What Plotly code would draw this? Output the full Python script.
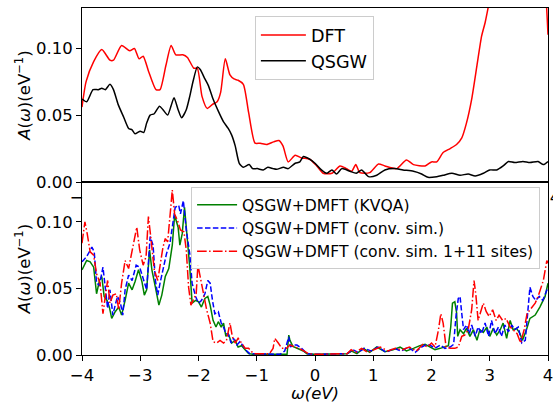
import plotly.graph_objects as go

# ---------------- top panel data ----------------
dft_x = [-4.00, -3.93, -3.80, -3.66, -3.52, -3.46, -3.32, -3.18, -3.10, -3.02,
         -2.95, -2.86, -2.73, -2.66, -2.56, -2.47, -2.39, -2.27, -2.19, -2.08,
         -2.02, -1.94, -1.85, -1.76, -1.68, -1.62, -1.54, -1.46, -1.39, -1.32,
         -1.23, -1.14, -1.03, -0.94, -0.83, -0.71, -0.62, -0.55, -0.46, -0.34,
         -0.23, -0.09, 0.03, 0.14, 0.29, 0.43, 0.54, 0.63, 0.70, 0.77,
         0.94, 1.09, 1.20, 1.40, 1.57, 1.69, 1.89, 2.00, 2.09, 2.20,
         2.32, 2.43, 2.52, 2.60, 2.69, 2.78, 2.86, 2.92, 2.98, 3.10,
         3.30, 3.50, 3.70, 3.85, 3.90, 3.97, 4.00]
dft_y = [0.056, 0.075, 0.090, 0.099, 0.091, 0.091, 0.102, 0.098, 0.0998, 0.092,
         0.094, 0.083, 0.069, 0.069, 0.087, 0.102, 0.095, 0.095, 0.093, 0.085,
         0.085, 0.064, 0.055, 0.058, 0.060, 0.067, 0.092, 0.080, 0.077, 0.076,
         0.073, 0.052, 0.029, 0.029, 0.028, 0.030, 0.031, 0.027, 0.015, 0.020,
         0.018, 0.017, 0.012, 0.0065, 0.0065, 0.012, 0.010, 0.008, 0.013, 0.007,
         0.007, 0.0135, 0.012, 0.010, 0.0165, 0.013, 0.012, 0.015, 0.015, 0.022,
         0.025, 0.028, 0.033, 0.044, 0.062, 0.087, 0.109, 0.119, 0.132, 0.16,
         0.19, 0.20, 0.19, 0.175, 0.17, 0.135, 0.11]

qsgw_x = [-4.00, -3.92, -3.81, -3.72, -3.66, -3.60, -3.52, -3.46, -3.38, -3.29,
          -3.20, -3.14, -3.09, -3.00, -2.94, -2.89, -2.83, -2.76, -2.67, -2.61,
          -2.53, -2.47, -2.42, -2.35, -2.29, -2.21, -2.15, -2.10, -2.02, -1.97,
          -1.89, -1.83, -1.75, -1.66, -1.57, -1.49, -1.43, -1.37, -1.30, -1.23,
          -1.13, -1.07, -0.99, -0.89, -0.81, -0.72, -0.66, -0.54, -0.46, -0.34,
          -0.26, -0.20, -0.09, 0.00, 0.11, 0.20, 0.29, 0.37, 0.46, 0.60,
          0.71, 0.80, 0.92, 1.06, 1.20, 1.37, 1.51, 1.69, 1.83, 1.94,
          2.09, 2.20, 2.35, 2.49, 2.63, 2.75, 2.89, 3.00, 3.12, 3.23,
          3.32, 3.43, 3.57, 3.69, 3.83, 3.92, 4.00]
qsgw_y = [0.062, 0.060, 0.069, 0.069, 0.070, 0.069, 0.073, 0.069, 0.058, 0.049,
          0.040, 0.039, 0.036, 0.038, 0.037, 0.044, 0.050, 0.051, 0.0566, 0.054,
          0.050, 0.057, 0.063, 0.054, 0.048, 0.054, 0.064, 0.074, 0.086, 0.084,
          0.077, 0.072, 0.062, 0.053, 0.045, 0.040, 0.035, 0.027, 0.014, 0.011,
          0.013, 0.010, 0.010, 0.009, 0.011, 0.010, 0.0095, 0.011, 0.010, 0.014,
          0.015, 0.019, 0.017, 0.014, 0.009, 0.0065, 0.009, 0.006, 0.010, 0.008,
          0.0065, 0.009, 0.004, 0.005, 0.009, 0.010, 0.009, 0.008, 0.006, 0.0035,
          0.004, 0.005, 0.0065, 0.005, 0.006, 0.0045, 0.0065, 0.009, 0.009, 0.012,
          0.0153, 0.0145, 0.0153, 0.0145, 0.0153, 0.013, 0.0153]

# ---------------- bottom panel data ----------------
kvqa_x = [-4.00, -3.92, -3.86, -3.80, -3.75, -3.70, -3.66, -3.62, -3.57, -3.53,
          -3.49, -3.43, -3.37, -3.32, -3.26, -3.20, -3.14, -3.09, -3.03, -2.97,
          -2.93, -2.89, -2.84, -2.80, -2.74, -2.68, -2.63, -2.57, -2.51, -2.45,
          -2.41, -2.35, -2.32, -2.28, -2.24, -2.20, -2.15, -2.11, -2.05, -2.00,
          -1.95, -1.89, -1.84, -1.80, -1.75, -1.70, -1.66, -1.61, -1.57, -1.53,
          -1.49, -1.43, -1.37, -1.32, -1.26, -1.20, -1.14, -1.06, -0.60, -0.48,
          -0.45, -0.43, -0.38, -0.31, -0.20, -0.14, 0.00, 0.55, 0.63, 0.72,
          0.83, 0.94, 1.06, 1.20, 1.34, 1.46, 1.57, 1.69, 1.80, 1.89,
          1.97, 2.06, 2.15, 2.23, 2.29, 2.33, 2.36, 2.40, 2.43, 2.45,
          2.49, 2.55, 2.60, 2.66, 2.72, 2.78, 2.83, 2.89, 2.95, 3.00,
          3.06, 3.12, 3.18, 3.23, 3.29, 3.35, 3.40, 3.46, 3.52, 3.56,
          3.63, 3.69, 3.78, 3.86, 3.95, 4.00]
kvqa_y = [0.064, 0.071, 0.070, 0.066, 0.046, 0.056, 0.059, 0.044, 0.041, 0.036,
          0.0275, 0.0325, 0.036, 0.030, 0.041, 0.054, 0.049, 0.055, 0.064, 0.055,
          0.045, 0.049, 0.079, 0.064, 0.051, 0.0375, 0.045, 0.059, 0.065, 0.0825,
          0.105, 0.096, 0.0825, 0.091, 0.111, 0.091, 0.066, 0.039, 0.041, 0.040,
          0.036, 0.0425, 0.044, 0.0375, 0.026, 0.021, 0.025, 0.021, 0.024, 0.014,
          0.016, 0.009, 0.011, 0.006, 0.007, 0.004, 0.001, 0.0005, 0.0005, 0.0005,
          0.015, 0.011, 0.0065, 0.005, 0.003, 0.001, 0.0005, 0.001, 0.003, 0.001,
          0.005, 0.002, 0.006, 0.0025, 0.004, 0.006, 0.003, 0.005, 0.007, 0.008,
          0.006, 0.004, 0.005, 0.006, 0.007, 0.021, 0.039, 0.040, 0.032, 0.014,
          0.019, 0.016, 0.020, 0.014, 0.019, 0.011, 0.019, 0.017, 0.021, 0.014,
          0.020, 0.015, 0.019, 0.024, 0.0125, 0.026, 0.019, 0.020, 0.016, 0.011,
          0.019, 0.0275, 0.030, 0.036, 0.044, 0.054]

conv_x = [-4.00, -3.92, -3.83, -3.79, -3.75, -3.70, -3.64, -3.60, -3.56, -3.52,
          -3.47, -3.43, -3.39, -3.34, -3.30, -3.26, -3.20, -3.14, -3.07, -3.01,
          -2.94, -2.89, -2.83, -2.78, -2.74, -2.70, -2.66, -2.60, -2.55, -2.49,
          -2.44, -2.40, -2.34, -2.31, -2.26, -2.21, -2.15, -2.11, -2.05, -2.00,
          -1.95, -1.89, -1.84, -1.80, -1.76, -1.72, -1.66, -1.61, -1.57, -1.53,
          -1.49, -1.44, -1.40, -1.34, -1.29, -1.23, -1.17, -1.12, -0.60, -0.52,
          -0.45, -0.42, -0.38, -0.31, -0.23, -0.14, 0.00, 0.55, 0.65, 0.74,
          0.85, 0.96, 1.08, 1.22, 1.36, 1.48, 1.60, 1.72, 1.83, 1.92,
          1.97, 2.06, 2.15, 2.23, 2.32, 2.38, 2.42, 2.46, 2.49, 2.52,
          2.55, 2.60, 2.65, 2.69, 2.75, 2.80, 2.86, 2.92, 2.98, 3.03,
          3.09, 3.15, 3.20, 3.26, 3.32, 3.38, 3.43, 3.49, 3.55, 3.61,
          3.65, 3.69, 3.74, 3.79, 3.85, 3.91, 4.00]
conv_y = [0.070, 0.074, 0.081, 0.0775, 0.054, 0.0525, 0.066, 0.049, 0.035, 0.049,
          0.030, 0.0375, 0.044, 0.039, 0.030, 0.049, 0.060, 0.056, 0.0675, 0.066,
          0.055, 0.049, 0.089, 0.0825, 0.056, 0.045, 0.054, 0.066, 0.076, 0.084,
          0.099, 0.111, 0.1125, 0.106, 0.116, 0.094, 0.076, 0.054, 0.044, 0.039,
          0.041, 0.046, 0.056, 0.054, 0.041, 0.031, 0.0325, 0.024, 0.021, 0.016,
          0.016, 0.009, 0.0125, 0.0075, 0.010, 0.006, 0.003, 0.001, 0.0005, 0.003,
          0.0137, 0.006, 0.0075, 0.0075, 0.005, 0.001, 0.0005, 0.001, 0.004, 0.002,
          0.005, 0.003, 0.006, 0.002, 0.005, 0.003, 0.006, 0.002, 0.006, 0.008,
          0.0075, 0.005, 0.0075, 0.005, 0.006, 0.008, 0.029, 0.0425, 0.044, 0.031,
          0.019, 0.0225, 0.016, 0.0225, 0.014, 0.021, 0.016, 0.024, 0.014, 0.026,
          0.016, 0.021, 0.014, 0.0225, 0.0175, 0.0225, 0.019, 0.021, 0.009, 0.011,
          0.029, 0.051, 0.044, 0.041, 0.044, 0.041, 0.051]

sites_x = [-4.00, -3.95, -3.91, -3.86, -3.80, -3.75, -3.69, -3.64, -3.60, -3.56,
           -3.52, -3.47, -3.41, -3.37, -3.32, -3.26, -3.20, -3.14, -3.10, -3.06,
           -3.01, -2.95, -2.90, -2.86, -2.82, -2.76, -2.70, -2.66, -2.61, -2.57,
           -2.53, -2.48, -2.45, -2.41, -2.36, -2.31, -2.25, -2.21, -2.17, -2.13,
           -2.08, -2.04, -2.01, -1.97, -1.92, -1.86, -1.80, -1.75, -1.69, -1.63,
           -1.57, -1.52, -1.46, -1.42, -1.37, -1.32, -1.26, -1.20, -1.14, -1.09,
           -1.03, -0.92, -0.78, -0.72, -0.69, -0.63, -0.57, -0.49, -0.43, -0.34,
           -0.23, -0.11, 0.00, 0.55, 0.62, 0.70, 0.80, 0.90, 1.00, 1.12,
           1.25, 1.38, 1.50, 1.62, 1.74, 1.85, 1.93, 2.00, 2.06, 2.12,
           2.16, 2.20, 2.25, 2.32, 2.40, 2.46, 2.52, 2.57, 2.63, 2.69,
           2.73, 2.76, 2.80, 2.84, 2.89, 2.94, 2.99, 3.05, 3.11, 3.16,
           3.22, 3.28, 3.35, 3.40, 3.47, 3.53, 3.59, 3.64, 3.72, 3.78,
           3.83, 3.92, 3.98, 4.00]
sites_y = [0.084, 0.100, 0.091, 0.0775, 0.075, 0.061, 0.054, 0.031, 0.044, 0.056,
           0.039, 0.045, 0.046, 0.034, 0.054, 0.071, 0.065, 0.0775, 0.086, 0.096,
           0.079, 0.0675, 0.074, 0.104, 0.089, 0.064, 0.056, 0.066, 0.081, 0.0875,
           0.085, 0.109, 0.124, 0.106, 0.101, 0.094, 0.0925, 0.079, 0.051, 0.0375,
           0.0425, 0.046, 0.0675, 0.059, 0.046, 0.034, 0.024, 0.010, 0.009, 0.011,
           0.009, 0.011, 0.024, 0.014, 0.009, 0.0125, 0.009, 0.005, 0.005, 0.0025,
           0.001, 0.001, 0.001, 0.005, 0.0125, 0.009, 0.005, 0.005, 0.0075, 0.006,
           0.004, 0.001, 0.0005, 0.001, 0.004, 0.002, 0.005, 0.002, 0.004, 0.006,
           0.003, 0.005, 0.004, 0.006, 0.003, 0.008, 0.006, 0.009, 0.006, 0.019,
           0.031, 0.024, 0.006, 0.005, 0.005, 0.006, 0.014, 0.015, 0.019, 0.034,
           0.056, 0.046, 0.026, 0.0325, 0.039, 0.0325, 0.029, 0.034, 0.026, 0.030,
           0.026, 0.0275, 0.021, 0.019, 0.016, 0.009, 0.019, 0.031, 0.036, 0.039,
           0.044, 0.056, 0.071, 0.069]

y_tick_vals = [0.0, 0.05, 0.10]
y_tick_text = ["0.00", "0.05", "0.10"]
x_tick_vals = [-4, -3, -2, -1, 0, 1, 2, 3, 4]

FONT = "DejaVu Sans"
HIDE = "<span style='color:rgba(0,0,0,0)'>{}</span>"

fig = go.Figure()
fig.add_trace(go.Scatter(x=dft_x, y=dft_y, mode="lines", name="DFT",
                         line=dict(color="red", width=1.5, shape="spline", smoothing=0.6),
                         xaxis="x", yaxis="y", legend="legend"))
fig.add_trace(go.Scatter(x=qsgw_x, y=qsgw_y, mode="lines", name="QSGW",
                         line=dict(color="black", width=1.5, shape="spline", smoothing=0.6),
                         xaxis="x", yaxis="y", legend="legend"))
fig.add_trace(go.Scatter(x=kvqa_x, y=kvqa_y, mode="lines", name="QSGW+DMFT (KVQA)",
                         line=dict(color="green", width=1.5),
                         xaxis="x2", yaxis="y2", legend="legend2"))
fig.add_trace(go.Scatter(x=conv_x, y=conv_y, mode="lines", name="QSGW+DMFT (conv. sim.)",
                         line=dict(color="blue", width=1.5, dash="5.5px,2.4px"),
                         xaxis="x2", yaxis="y2", legend="legend2"))
fig.add_trace(go.Scatter(x=sites_x, y=sites_y, mode="lines",
                         name="QSGW+DMFT (conv. sim. 1+11 sites)",
                         line=dict(color="red", width=1.5, dash="9.6px,2.4px,1.5px,2.4px"),
                         xaxis="x2", yaxis="y2", legend="legend2"))

split = 173 / 347
axis_common = dict(showline=True, linecolor="black", linewidth=1, mirror=True,
                   showgrid=False, zeroline=False, ticklabeloverflow="allow",
                   automargin=False,
                   tickfont=dict(family=FONT, size=16.5, color="black"))
ytitle = dict(text="<i>A</i>(<i>ω</i>)(eV<sup>−1</sup>)",
              font=dict(family=FONT, size=16.5, color="black"), standoff=1)

fig.update_layout(
    template="none",
    width=553, height=403, autosize=False,
    margin=dict(l=82, r=5, t=8, b=48, pad=0),
    paper_bgcolor="white", plot_bgcolor="white",
    font=dict(family=FONT, color="black"),
    xaxis=dict(domain=[0, 1], range=[-4, 4], anchor="y",
               tickvals=[-4, 4],
               ticktext=["−" + HIDE.format("4"), HIDE.format("−") + "4"],
               ticks="outside", ticklen=0, tickcolor="rgba(0,0,0,0)",
               **axis_common),
    yaxis=dict(domain=[split, 1], range=[0, 0.13], anchor="x",
               tickvals=y_tick_vals, ticktext=y_tick_text,
               ticks="outside", ticklen=5, tickcolor="black",
               title=ytitle, **axis_common),
    xaxis2=dict(domain=[0, 1], range=[-4, 4], anchor="y2",
                tickvals=x_tick_vals, ticks="outside", ticklen=5, tickcolor="black",
                title=dict(text="<i>ω(eV)</i>", font=dict(family=FONT, size=16.5, color="black"),
                           standoff=8),
                **axis_common),
    yaxis2=dict(domain=[0, split], range=[0, 0.13], anchor="x2",
                tickvals=y_tick_vals, ticktext=y_tick_text,
                ticks="outside", ticklen=5, tickcolor="black",
                title=ytitle, **axis_common),
    legend=dict(x=0.371, y=0.977, xanchor="left", yanchor="top",
                bgcolor="rgba(255,255,255,0.8)", bordercolor="#cccccc", borderwidth=1,
                itemwidth=45,
                font=dict(family=FONT, size=17.6, color="black")),
    legend2=dict(x=0.983, y=0.484, xanchor="right", yanchor="top",
                 bgcolor="rgba(255,255,255,0.8)", bordercolor="#cccccc", borderwidth=1,
                 itemwidth=40,
                 font=dict(family=FONT, size=15.6, color="black")),
    showlegend=True,
)

fig.write_html("out.html", config={"displayModeBar": False},
               post_script="document.body.style.margin='0';document.body.style.padding='0';")
